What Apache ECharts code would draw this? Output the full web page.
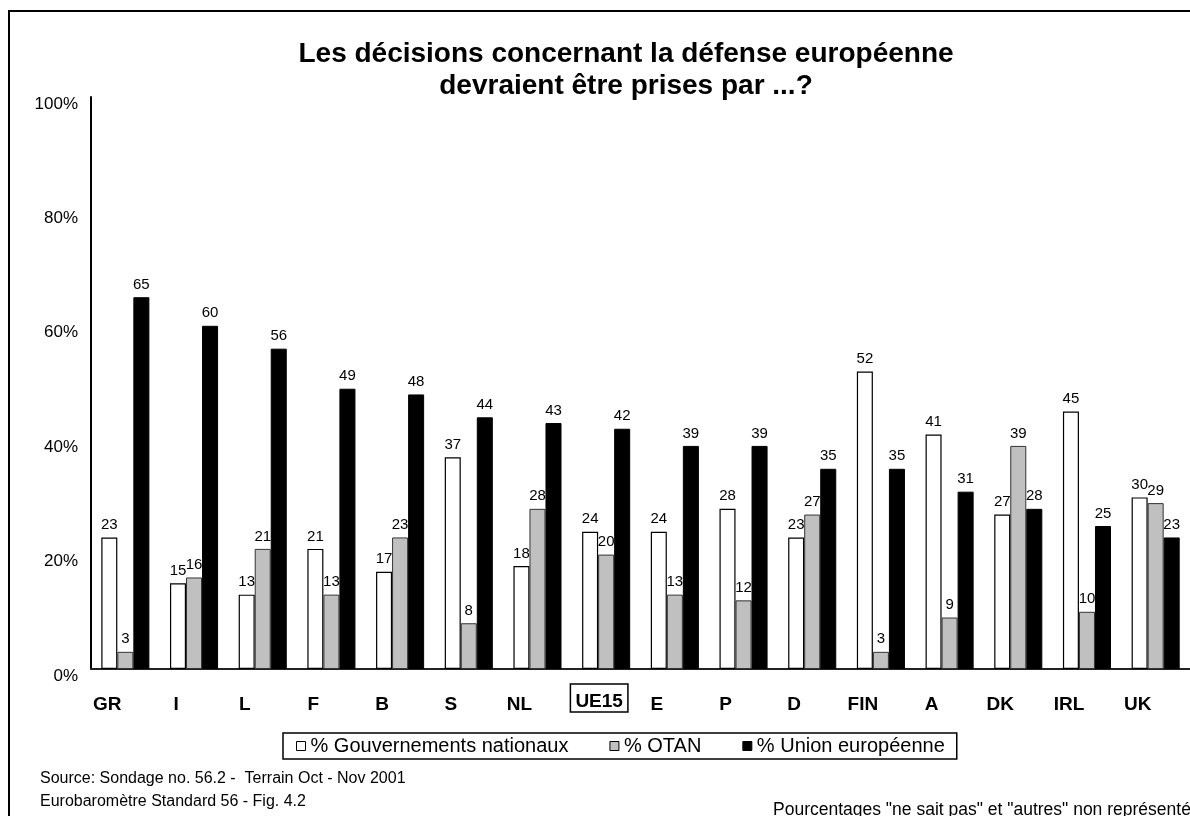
<!DOCTYPE html>
<html>
<head>
<meta charset="utf-8">
<script src="https://cdn.jsdelivr.net/npm/echarts@6/dist/echarts.min.js"></script>
<style>
  html, body { margin: 0; padding: 0; background: #fff; }
  #chart { width: 1190px; height: 816px; }
</style>
</head>
<body>
<div id="chart"></div>
<script>
// Pays / zones (axe des catégories)
const countries = ['GR', 'I', 'L', 'F', 'B', 'S', 'NL', 'UE15', 'E', 'P', 'D', 'FIN', 'A', 'DK', 'IRL', 'UK'];

// Séries (%)
const gouvernements = [23, 15, 13, 21, 17, 37, 18, 24, 24, 28, 23, 52, 41, 27, 45, 30];
const otan          = [3, 16, 21, 13, 23, 8, 28, 20, 13, 12, 27, 3, 9, 39, 10, 29];
const unionEur      = [65, 60, 56, 49, 48, 44, 43, 42, 39, 39, 35, 35, 31, 28, 25, 23];

const seriesNames = ['% Gouvernements nationaux', '% OTAN', '% Union européenne'];
const yTicks = [0, 20, 40, 60, 80, 100];

const FONT = 'Liberation Sans, Arial, Helvetica, sans-serif';

const chart = echarts.init(document.getElementById('chart'), null, { renderer: 'canvas' });

const barLabel = {
  show: true,
  position: 'top',
  distance: 5,
  color: '#000',
  fontFamily: FONT,
  fontSize: 15
};

const styles = [
  { color: '#ffffff', borderColor: '#000000', borderWidth: 1.2 },
  { color: '#c0c0c0', borderColor: '#333333', borderWidth: 1 },
  { color: '#000000', borderColor: '#000000', borderWidth: 1 }
];
const seriesData = [gouvernements, otan, unionEur];

const option = {
  backgroundColor: '#ffffff',
  animation: false,
  title: {
    text: 'Les décisions concernant la défense européenne\ndevraient être prises par ...?',
    left: 626,
    top: 38,
    padding: 0,
    textAlign: 'center',
    textStyle: {
      fontFamily: FONT,
      fontWeight: 'bold',
      fontSize: 28,
      lineHeight: 32,
      color: '#000'
    }
  },
  legend: {
    data: seriesNames.map((n, i) => ({
      name: n,
      icon: 'rect',
      itemStyle: { color: styles[i].color, borderColor: '#000', borderWidth: 1 }
    })),
    left: 283,
    top: 733,
    orient: 'horizontal',
    padding: [2, 12, 2, 13],
    itemWidth: 9,
    itemHeight: 9,
    itemGap: 41,
    borderColor: '#000',
    borderWidth: 1.5,
    selectedMode: false,
    textStyle: { fontFamily: FONT, fontSize: 20, lineHeight: 22, color: '#000' }
  },
  grid: {
    left: 91,
    top: 97,
    width: 1101,
    bottom: 147,
    containLabel: false
  },
  xAxis: {
    type: 'category',
    data: countries,
    axisLine: { show: true, lineStyle: { color: '#222', width: 2 } },
    axisTick: { show: false },
    axisLabel: {
      interval: 0,
      margin: 18,
      formatter: (v) => v === 'UE15' ? '{b|' + v + '}{s|\u00a0}' : '{a|' + v + '}{p|\u00a0}',
      rich: {
        a: { fontFamily: FONT, fontWeight: 'bold', fontSize: 19, lineHeight: 22, color: '#000', padding: [13, 0, 0, 0] },
        b: { fontFamily: FONT, fontWeight: 'bold', fontSize: 19, lineHeight: 22, color: '#000',
             padding: [8, 5, 1, 5], borderColor: '#000', borderWidth: 1.5 },
        p: { width: 36, fontSize: 10 },
        s: { width: 14, fontSize: 10 }
      }
    }
  },
  yAxis: {
    type: 'value',
    min: yTicks[0],
    max: yTicks[yTicks.length - 1],
    interval: 20,
    axisLine: { show: true, lineStyle: { color: '#000', width: 2 } },
    axisTick: { show: false },
    splitLine: { show: false },
    axisLabel: {
      margin: 13,
      formatter: '{value}%',
      fontFamily: FONT,
      fontSize: 17,
      color: '#000',
      verticalAlign: 'top',
      lineHeight: 14
    }
  },
  series: seriesNames.map((n, i) => ({
    name: n,
    type: 'bar',
    data: seriesData[i],
    barGap: '0%',
    barCategoryGap: '30%',
    itemStyle: styles[i],
    label: barLabel
  })),
  graphic: [
    {
      type: 'rect',
      shape: { x: 9, y: 11, width: 1300, height: 900 },
      style: { fill: 'none', stroke: '#000', lineWidth: 2 },
      silent: true,
      z: 100
    },
    {
      type: 'text',
      left: 40,
      top: 771,
      style: { text: 'Source: Sondage no. 56.2 -  Terrain Oct - Nov 2001', font: '16px ' + FONT, fill: '#000' }
    },
    {
      type: 'text',
      left: 40,
      top: 794,
      style: { text: 'Eurobaromètre Standard 56 - Fig. 4.2', font: '16px ' + FONT, fill: '#000' }
    },
    {
      type: 'text',
      left: 773,
      top: 801,
      style: { text: 'Pourcentages "ne sait pas" et "autres" non représentés', font: '17.5px ' + FONT, fill: '#000' }
    }
  ]
};

chart.setOption(option);
</script>
</body>
</html>
